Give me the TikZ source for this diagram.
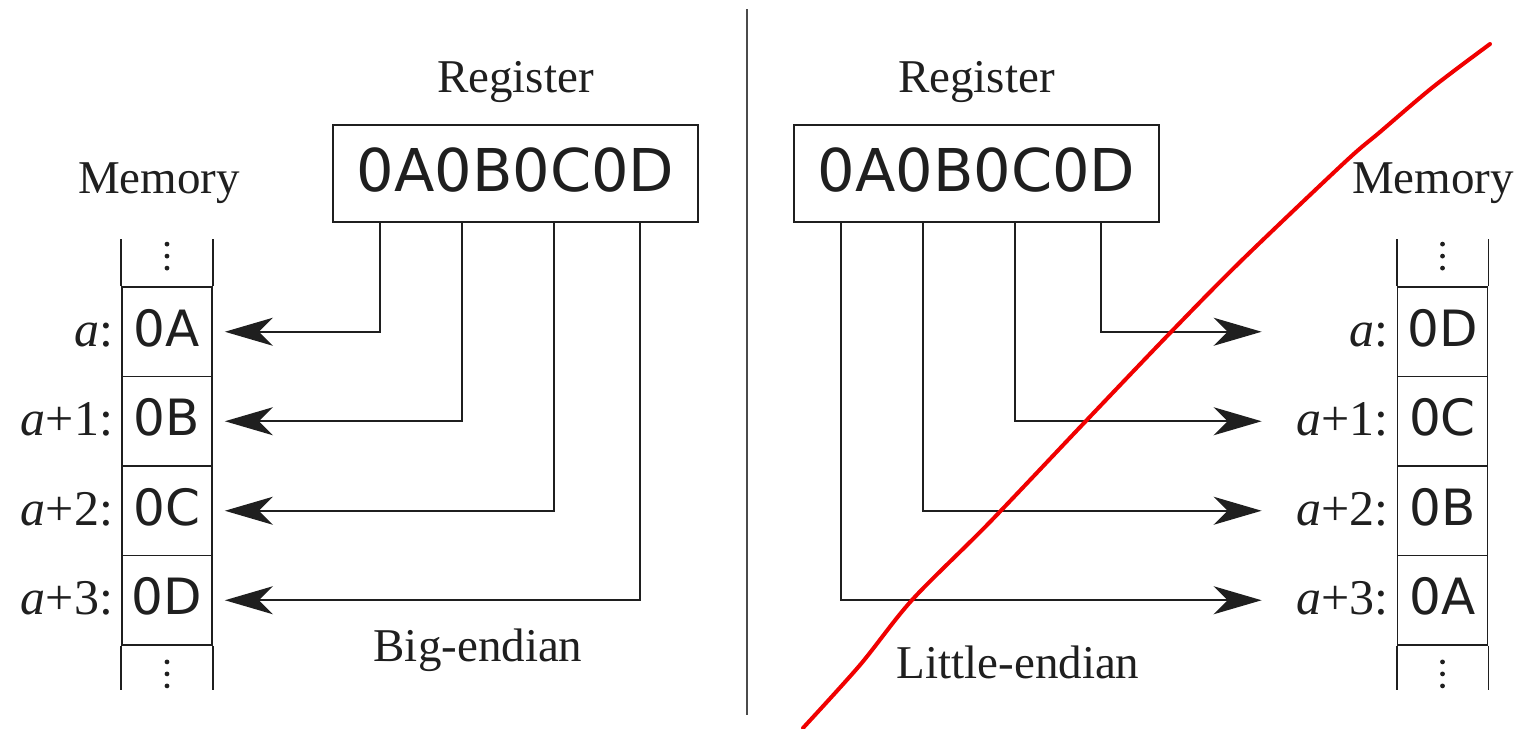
\documentclass[tikz,border=0pt]{standalone}
\usepackage{fontspec}
\setmainfont{Liberation Serif}
\newfontfamily\hexfont{DejaVu Sans}
\usetikzlibrary{arrows.meta,calc}
\definecolor{ink}{gray}{0.12}
\definecolor{pen}{RGB}{240,0,0}
\begin{document}
\begin{tikzpicture}[x=1pt,y=-1pt,
  cell/.style={draw=ink, line width=1.8pt, minimum width=90pt, minimum height=89.5pt,
    inner sep=0pt, text=ink, font=\hexfont\fontsize{50}{50}\selectfont,
    text height=36.5pt, text depth=7.5pt},
  reg/.style={draw=ink, line width=2pt, minimum width=365pt, minimum height=97pt,
    inner sep=0pt, text=ink, font=\hexfont\fontsize{59}{59}\selectfont,
    text height=43pt, text depth=8pt},
  addr/.style={inner sep=0pt, anchor=base east, text=ink, font=\fontsize{50}{50}\selectfont},
  caption/.style={inner sep=0pt, anchor=base, text=ink, font=\fontsize{47}{47}\selectfont},
  wire/.style={draw=ink, line width=2pt, -{Stealth[length=48pt, width=28pt, inset=14pt]}},
  rail/.style={draw=ink, line width=1.8pt},
  dot/.style={fill=ink}
]
\useasboundingbox (0,0) rectangle (1525,728);

% ---------- big-endian half ----------
\node[reg] (regL) at (515.5,173.5) {0A0B0C0D};
\node[caption] (regLtitle) at ([yshift=32pt]regL.north) {Register};

\node[cell] (L0) at (167,331.75) {0A};
\node[cell] (L1) at (167,421.25) {0B};
\node[cell] (L2) at (167,510.75) {0C};
\node[cell] (L3) at (167,600.25) {0D};

\draw[rail] (L0.north west) -- ++(0,-47);
\draw[rail] (L0.north east) -- ++(0,-47);
\draw[rail] (L3.south west) -- ++(0,44);
\draw[rail] (L3.south east) -- ++(0,44);
\foreach \d in {-42,-30,-18} \fill[dot] ($(L0.north)+(0,\d)$) circle (2.4pt);
\foreach \d in {16,28,40} \fill[dot] ($(L3.south)+(0,\d)$) circle (2.4pt);

\node[addr] (La0) at ([xshift=-8pt]L0.base west) {\itshape a\upshape:};
\node[addr] (La1) at ([xshift=-8pt]L1.base west) {\itshape a\upshape+1:};
\node[addr] (La2) at ([xshift=-8pt]L2.base west) {\itshape a\upshape+2:};
\node[addr] (La3) at ([xshift=-8pt]L3.base west) {\itshape a\upshape+3:};

\node[caption] (memL) at (159,193) {Memory};
\node[caption] (bigL) at (478,661) {Big-endian};

\draw[wire] ([xshift=47.5pt]regL.south west) |- ([xshift=12pt]L0.east);
\draw[wire] ([xshift=130pt]regL.south west) |- ([xshift=12pt]L1.east);
\draw[wire] ([xshift=222pt]regL.south west) |- ([xshift=12pt]L2.east);
\draw[wire] ([xshift=307.5pt]regL.south west) |- ([xshift=12pt]L3.east);

% ---------- separator ----------
\draw[draw=ink!80, line width=2.4pt] (747,9) -- (747,715);

% ---------- little-endian half ----------
\node[reg] (regR) at (976.5,173.5) {0A0B0C0D};
\node[caption] (regRtitle) at ([yshift=32pt]regR.north) {Register};

\node[cell] (R0) at (1442.5,331.75) {0D};
\node[cell] (R1) at (1442.5,421.25) {0C};
\node[cell] (R2) at (1442.5,510.75) {0B};
\node[cell] (R3) at (1442.5,600.25) {0A};

\draw[rail] (R0.north west) -- ++(0,-47);
\draw[rail] (R0.north east) -- ++(0,-47);
\draw[rail] (R3.south west) -- ++(0,44);
\draw[rail] (R3.south east) -- ++(0,44);
\foreach \d in {-42,-30,-18} \fill[dot] ($(R0.north)+(0,\d)$) circle (2.4pt);
\foreach \d in {16,28,40} \fill[dot] ($(R3.south)+(0,\d)$) circle (2.4pt);

\node[addr] (Ra0) at ([xshift=-8pt]R0.base west) {\itshape a\upshape:};
\node[addr] (Ra1) at ([xshift=-8pt]R1.base west) {\itshape a\upshape+1:};
\node[addr] (Ra2) at ([xshift=-8pt]R2.base west) {\itshape a\upshape+2:};
\node[addr] (Ra3) at ([xshift=-8pt]R3.base west) {\itshape a\upshape+3:};

\node[caption] (memR) at (1433,193) {Memory};
\node[caption] (littleR) at (1018,678) {Little-endian};

\draw[wire] ([xshift=307.5pt]regR.south west) |- ([xshift=-135pt]R0.west);
\draw[wire] ([xshift=222pt]regR.south west) |- ([xshift=-135pt]R1.west);
\draw[wire] ([xshift=130pt]regR.south west) |- ([xshift=-135pt]R2.west);
\draw[wire] ([xshift=47.5pt]regR.south west) |- ([xshift=-135pt]R3.west);

% ---------- hand-drawn red stroke ----------
\draw[pen, line width=4pt, line cap=round, line join=round]
  plot[smooth, tension=0.5] coordinates {(1490,44) (1433,87) (1380,132) (1345,162)
    (1241,261) (1170,333) (1084,423) (989,523) (912,600) (860,665) (803,728)};
\end{tikzpicture}
\end{document}
